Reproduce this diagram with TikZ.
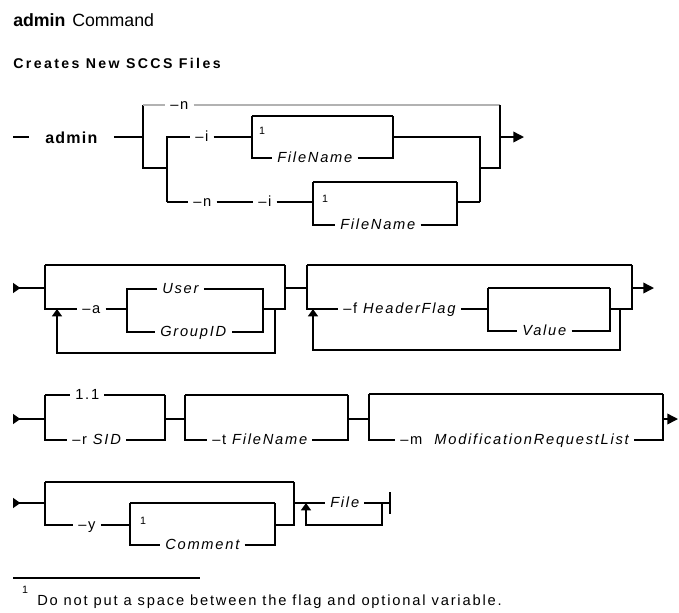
\documentclass[tikz,border=0pt]{standalone}
\usepackage{fontspec}
\setmainfont{Liberation Sans}
\newfontfamily\railfont[LetterSpace=12]{Liberation Sans}
\newfontfamily\titlefont[LetterSpace=17]{Liberation Sans}
\newfontfamily\notefont[LetterSpace=12.5]{Liberation Sans}
\newfontfamily\cmdfont[LetterSpace=8]{Liberation Sans}
\usetikzlibrary{arrows.meta}

\begin{document}
\begin{tikzpicture}[x=0.75pt,y=0.75pt,yscale=-1,xscale=1,
  track/.style={line width=1.1pt},
  deftrack/.style={line width=1.9pt},
  lbl/.style={anchor=west,inner xsep=3.75pt,inner ysep=0pt,text height=7.5pt,text depth=1.5pt,font=\railfont\fontsize{11pt}{13pt}\selectfont},
  cmdlbl/.style={anchor=west,inner xsep=12pt,inner ysep=0pt,text height=9pt,text depth=0pt,font=\cmdfont\bfseries\fontsize{12pt}{14pt}\selectfont},
  mark1/.style={inner sep=0pt,font=\fontsize{8pt}{9pt}\selectfont},
  endtip/.style={-{Triangle[length=8pt,width=8pt]}},
  begtip/.style={{Triangle[reversed,length=5.5pt,width=7.5pt]}-},
  uptip/.style={-{Triangle[length=5.5pt,width=7.5pt]}}
]
\useasboundingbox (0,0) rectangle (679,612);

% Text Node
\node[anchor=base west,inner sep=0pt,font=\fontsize{13.3pt}{16pt}\selectfont] (hadm) at (13,26) {\bfseries admin};
% Text Node
\node[anchor=base west,inner sep=0pt,font=\fontsize{13.3pt}{16pt}\selectfont] (hcmd) at (72,26) {Command};
% Text Node
\node[anchor=base west,inner sep=0pt,font=\titlefont\bfseries\fontsize{10.6pt}{12pt}\selectfont] (htitle) at (13,68) {Creates New SCCS Files};

%Row 1
\node[cmdlbl] (cmd) at (29,137) {admin};
\draw[track] (13,137) -- (cmd.west);
\draw[track] (cmd.east) -- (143,137);
\draw[track] (143,105) -- (143,168) -- (167,168);
\node[lbl] (n1) at (165,105) {–n};
\draw[deftrack,draw=gray!60] (143,105) -- (n1.west);
\draw[deftrack,draw=gray!60] (n1.east) -- (500,105);
\draw[track] (500,105) -- (500,168) -- (480,168);
\draw[track,endtip] (500,137) -- (524,137);
% -i branch
\node[lbl] (i1) at (190,137) {–i};
\draw[track] (167,202) -- (167,137) -- (i1.west);
\draw[track] (i1.east) -- (252,137);
\node[mark1] (mkA) at (262,131) {1};
\node[lbl] (fnA) at (272,158) {\itshape FileName};
\draw[deftrack] (252,116) -- (393,116);
\draw[track] (252,116) -- (252,158) -- (fnA.west);
\draw[track] (fnA.east) -- (393,158) -- (393,116);
\draw[track] (393,137) -- (480,137) -- (480,202);
% -n -i branch
\node[lbl] (n2) at (188,202) {–n};
\node[lbl] (i2) at (253,202) {–i};
\draw[track] (167,202) -- (n2.west);
\draw[track] (n2.east) -- (i2.west);
\draw[track] (i2.east) -- (313,202);
\node[mark1] (mkB) at (325,199) {1};
\node[lbl] (fnB) at (335,225) {\itshape FileName};
\draw[deftrack] (313,182) -- (457,182);
\draw[track] (313,182) -- (313,225) -- (fnB.west);
\draw[track] (fnB.east) -- (457,225) -- (457,182);
\draw[track] (457,202) -- (480,202);

%Row 2
\node[lbl] (opta) at (77,309) {–a};
\node[lbl] (user) at (157,289) {\itshape User};
\node[lbl] (gid) at (155,332) {\itshape GroupID};
\draw[track,begtip] (13,288) -- (45,288);
\draw[deftrack] (45,265) -- (285,265);
\draw[track] (45,265) -- (45,309) -- (opta.west);
\draw[track] (opta.east) -- (127,309);
\draw[track] (user.west) -- (127,289) -- (127,332) -- (gid.west);
\draw[track] (user.east) -- (263,289) -- (263,332) -- (gid.east);
\draw[track] (263,309) -- (285,309) -- (285,265);
\draw[track] (285,288) -- (307,288);
\draw[track,uptip] (275,309) -- (275,353) -- (57,353) -- (57,309);
% -f
\node[lbl] (hf) at (338,309) {–f {\itshape HeaderFlag}};
\node[lbl] (val) at (517,331) {\itshape Value};
\draw[deftrack] (307,265) -- (632,265);
\draw[track] (307,265) -- (307,309) -- (hf.west);
\draw[track] (hf.east) -- (488,309);
\draw[deftrack] (488,288) -- (610,288);
\draw[track] (488,288) -- (488,331) -- (val.west);
\draw[track] (val.east) -- (610,331) -- (610,288);
\draw[track] (610,309) -- (632,309) -- (632,265);
\draw[track,endtip] (632,288) -- (654,288);
\draw[track,uptip] (620,309) -- (620,350) -- (313,350) -- (313,309);

%Row 3
\node[lbl] (v11) at (70,395) {1.1};
\node[lbl] (rsid) at (67,440) {–r {\itshape SID}};
\node[lbl] (tfn) at (207,440) {–t {\itshape FileName}};
\node[lbl] (mrl) at (395,440) {–m\hspace{9pt}{\itshape ModificationRequestList}};
\draw[track,begtip] (13,419) -- (45,419);
\draw[deftrack] (45,395) -- (v11.west);
\draw[deftrack] (v11.east) -- (165,395);
\draw[track] (45,395) -- (45,440) -- (rsid.west);
\draw[track] (rsid.east) -- (165,440) -- (165,395);
\draw[track] (165,419) -- (185,419);
\draw[deftrack] (185,395) -- (348,395);
\draw[track] (185,395) -- (185,440) -- (tfn.west);
\draw[track] (tfn.east) -- (348,440) -- (348,395);
\draw[track] (348,419) -- (369,419);
\draw[deftrack] (369,394) -- (663,394);
\draw[track] (369,394) -- (369,440) -- (mrl.west);
\draw[track] (mrl.east) -- (663,440) -- (663,394);
\draw[track,endtip] (663,419) -- (678,419);

%Row 4
\node[lbl] (opty) at (73,525) {–y};
\node[mark1] (mkC) at (143,521) {1};
\node[lbl] (cmt) at (160,545) {\itshape Comment};
\node[lbl] (file) at (325,503) {\itshape File};
\draw[track,begtip] (13,503) -- (45,503);
\draw[deftrack] (45,482) -- (294,482);
\draw[track] (45,482) -- (45,525) -- (opty.west);
\draw[track] (opty.east) -- (130,525);
\draw[deftrack] (130,503) -- (275,503);
\draw[track] (130,503) -- (130,545) -- (cmt.west);
\draw[track] (cmt.east) -- (275,545) -- (275,503);
\draw[track] (275,525) -- (294,525) -- (294,482);
\draw[track] (294,503) -- (file.west);
\draw[track] (file.east) -- (390,503);
\draw[track] (390,492) -- (390,514);
\draw[track,uptip] (382,503) -- (382,525) -- (306,525) -- (306,503);

% Footnote
\draw[track] (13,578) -- (200,578);
\node[mark1] (mkN) at (25,590) {1};
\node[anchor=base west,inner sep=0pt,font=\notefont\fontsize{11pt}{13pt}\selectfont] (note) at (37,605) {Do not put a space between the flag and optional variable.};

\end{tikzpicture}
\end{document}
